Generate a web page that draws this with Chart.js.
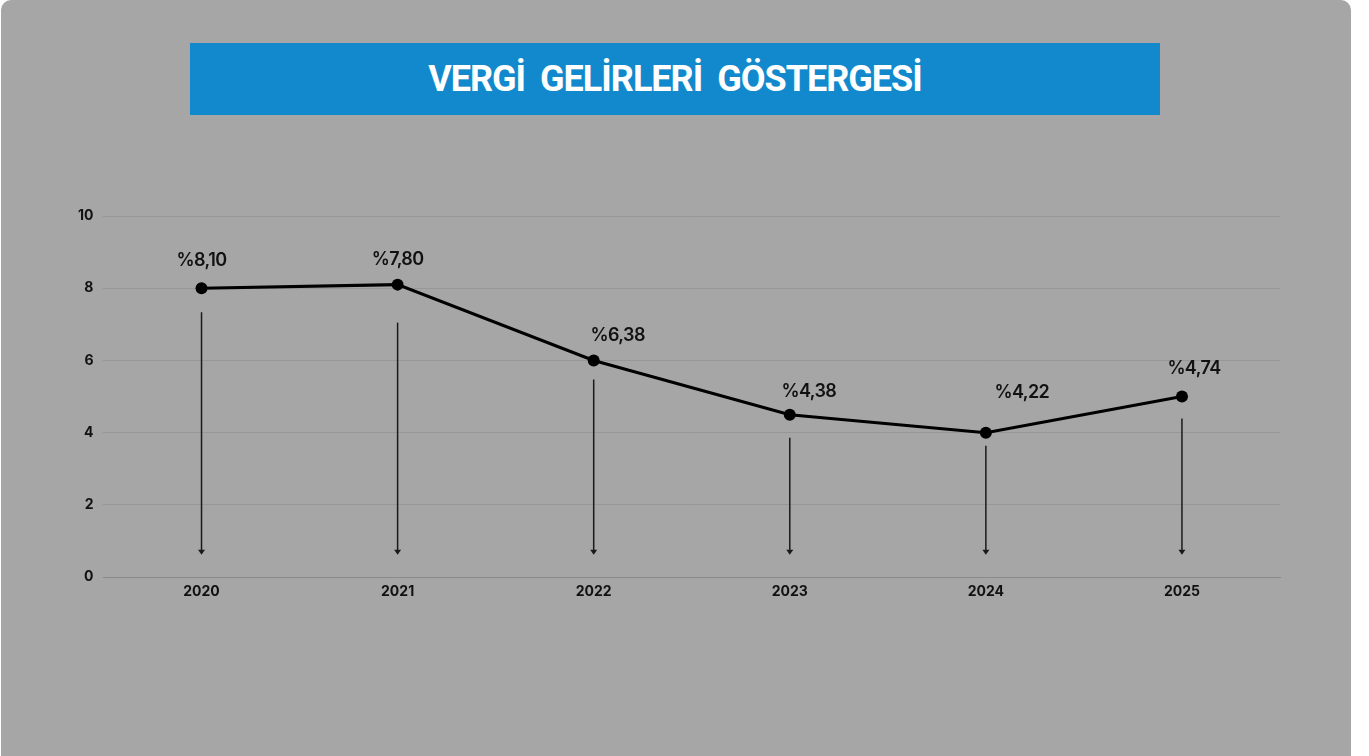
<!DOCTYPE html>
<html lang="tr">
<head>
<meta charset="utf-8">
<title>Vergi Gelirleri Göstergesi</title>
<script src="https://cdn.jsdelivr.net/npm/chart.js@4.4.1/dist/chart.umd.min.js"></script>
<style>
  html, body { margin: 0; padding: 0; background: #fff; }
  #panel {
    position: absolute; left: 1px; top: 0; width: 1350px; height: 756px;
    background: #a6a6a6; border-radius: 10px 10px 0 0; overflow: hidden;
  }
  #titleBar {
    position: absolute; left: 189px; top: 43px; width: 970px; height: 72px;
    background: #1389cd; color: #fff;
    font-family: "Roboto", "Liberation Sans", sans-serif; font-weight: 700;
    font-size: 36px; line-height: 72px; text-align: center; word-spacing: 7px;
    letter-spacing: -1px;
  }
  #wrap { position: absolute; left: 0; top: 0; width: 1350px; height: 756px; }
</style>
</head>
<body>
<div id="panel">
  <div id="titleBar">VERGİ GELİRLERİ GÖSTERGESİ</div>
  <div id="wrap"><canvas id="taxChart"></canvas></div>
</div>
<script>
// data
const years = ["2020", "2021", "2022", "2023", "2024", "2025"];
const lineValues = [8.0, 8.1, 6.0, 4.5, 4.0, 5.0];
const rateLabels = ["%8,10", "%7,80", "%6,38", "%4,38", "%4,22", "%4,74"];
const yTicks = [0, 2, 4, 6, 8, 10];

// label nudges relative to each point (dx, dy)
const labelNudge = [[0, -28], [0, -25], [24, -25], [19, -23], [36, -40], [12, -28]];
// gap under each point before the arrow starts
const arrowGap = [24, 38, 19, 23, 13, 22];
const arrowEnd = 0.65;

const pointExtras = {
  id: "pointExtras",
  afterDatasetsDraw(chart) {
    const ctx = chart.ctx;
    const meta = chart.getDatasetMeta(0);
    const yScale = chart.scales.y;
    const endY = yScale.getPixelForValue(arrowEnd);
    ctx.save();
    meta.data.forEach((pt, i) => {
      // arrow
      const x = pt.x;
      ctx.strokeStyle = "#1a1a1a";
      ctx.fillStyle = "#1a1a1a";
      ctx.lineWidth = 1.5;
      ctx.beginPath();
      ctx.moveTo(x, pt.y + arrowGap[i]);
      ctx.lineTo(x, endY - 2);
      ctx.stroke();
      ctx.beginPath();
      ctx.moveTo(x - 3.5, endY - 4);
      ctx.lineTo(x + 3.5, endY - 4);
      ctx.lineTo(x, endY + 1);
      ctx.closePath();
      ctx.fill();
      // value label
      ctx.fillStyle = "#111";
      ctx.font = "600 18px Inter, 'Noto Sans', sans-serif";
      ctx.letterSpacing = "-0.6px";
      ctx.textAlign = "center";
      ctx.textBaseline = "middle";
      ctx.fillText(rateLabels[i], x + labelNudge[i][0], pt.y + labelNudge[i][1]);
    });
    ctx.restore();
  }
};

new Chart(document.getElementById("taxChart"), {
  type: "line",
  data: {
    labels: years,
    datasets: [{
      data: lineValues,
      borderColor: "#000",
      borderWidth: 3,
      backgroundColor: "#000",
      pointRadius: 6,
      pointHoverRadius: 6,
      pointBackgroundColor: "#000",
      pointBorderWidth: 0,
      tension: 0,
      fill: false
    }]
  },
  options: {
    responsive: true,
    maintainAspectRatio: false,
    animation: false,
    layout: { padding: { top: 216, left: 67, right: 71, bottom: 150 } },
    plugins: { legend: { display: false }, tooltip: { enabled: false } },
    scales: {
      x: {
        offset: true,
        grid: { display: false, drawTicks: false },
        border: { display: true, color: "#8a8a8a", width: 1 },
        ticks: { color: "#111", padding: 6, font: { family: "Inter", size: 14, weight: "bold" } }
      },
      y: {
        min: 0, max: 10,
        afterBuildTicks(axis) { axis.ticks = yTicks.map(v => ({ value: v })); },
        grid: { color: "#979797", lineWidth: 1, drawTicks: false },
        border: { display: false },
        ticks: { color: "#111", padding: 10, font: { family: "Inter", size: 14, weight: "bold" } }
      }
    }
  },
  plugins: [pointExtras]
});
</script>
</body>
</html>
